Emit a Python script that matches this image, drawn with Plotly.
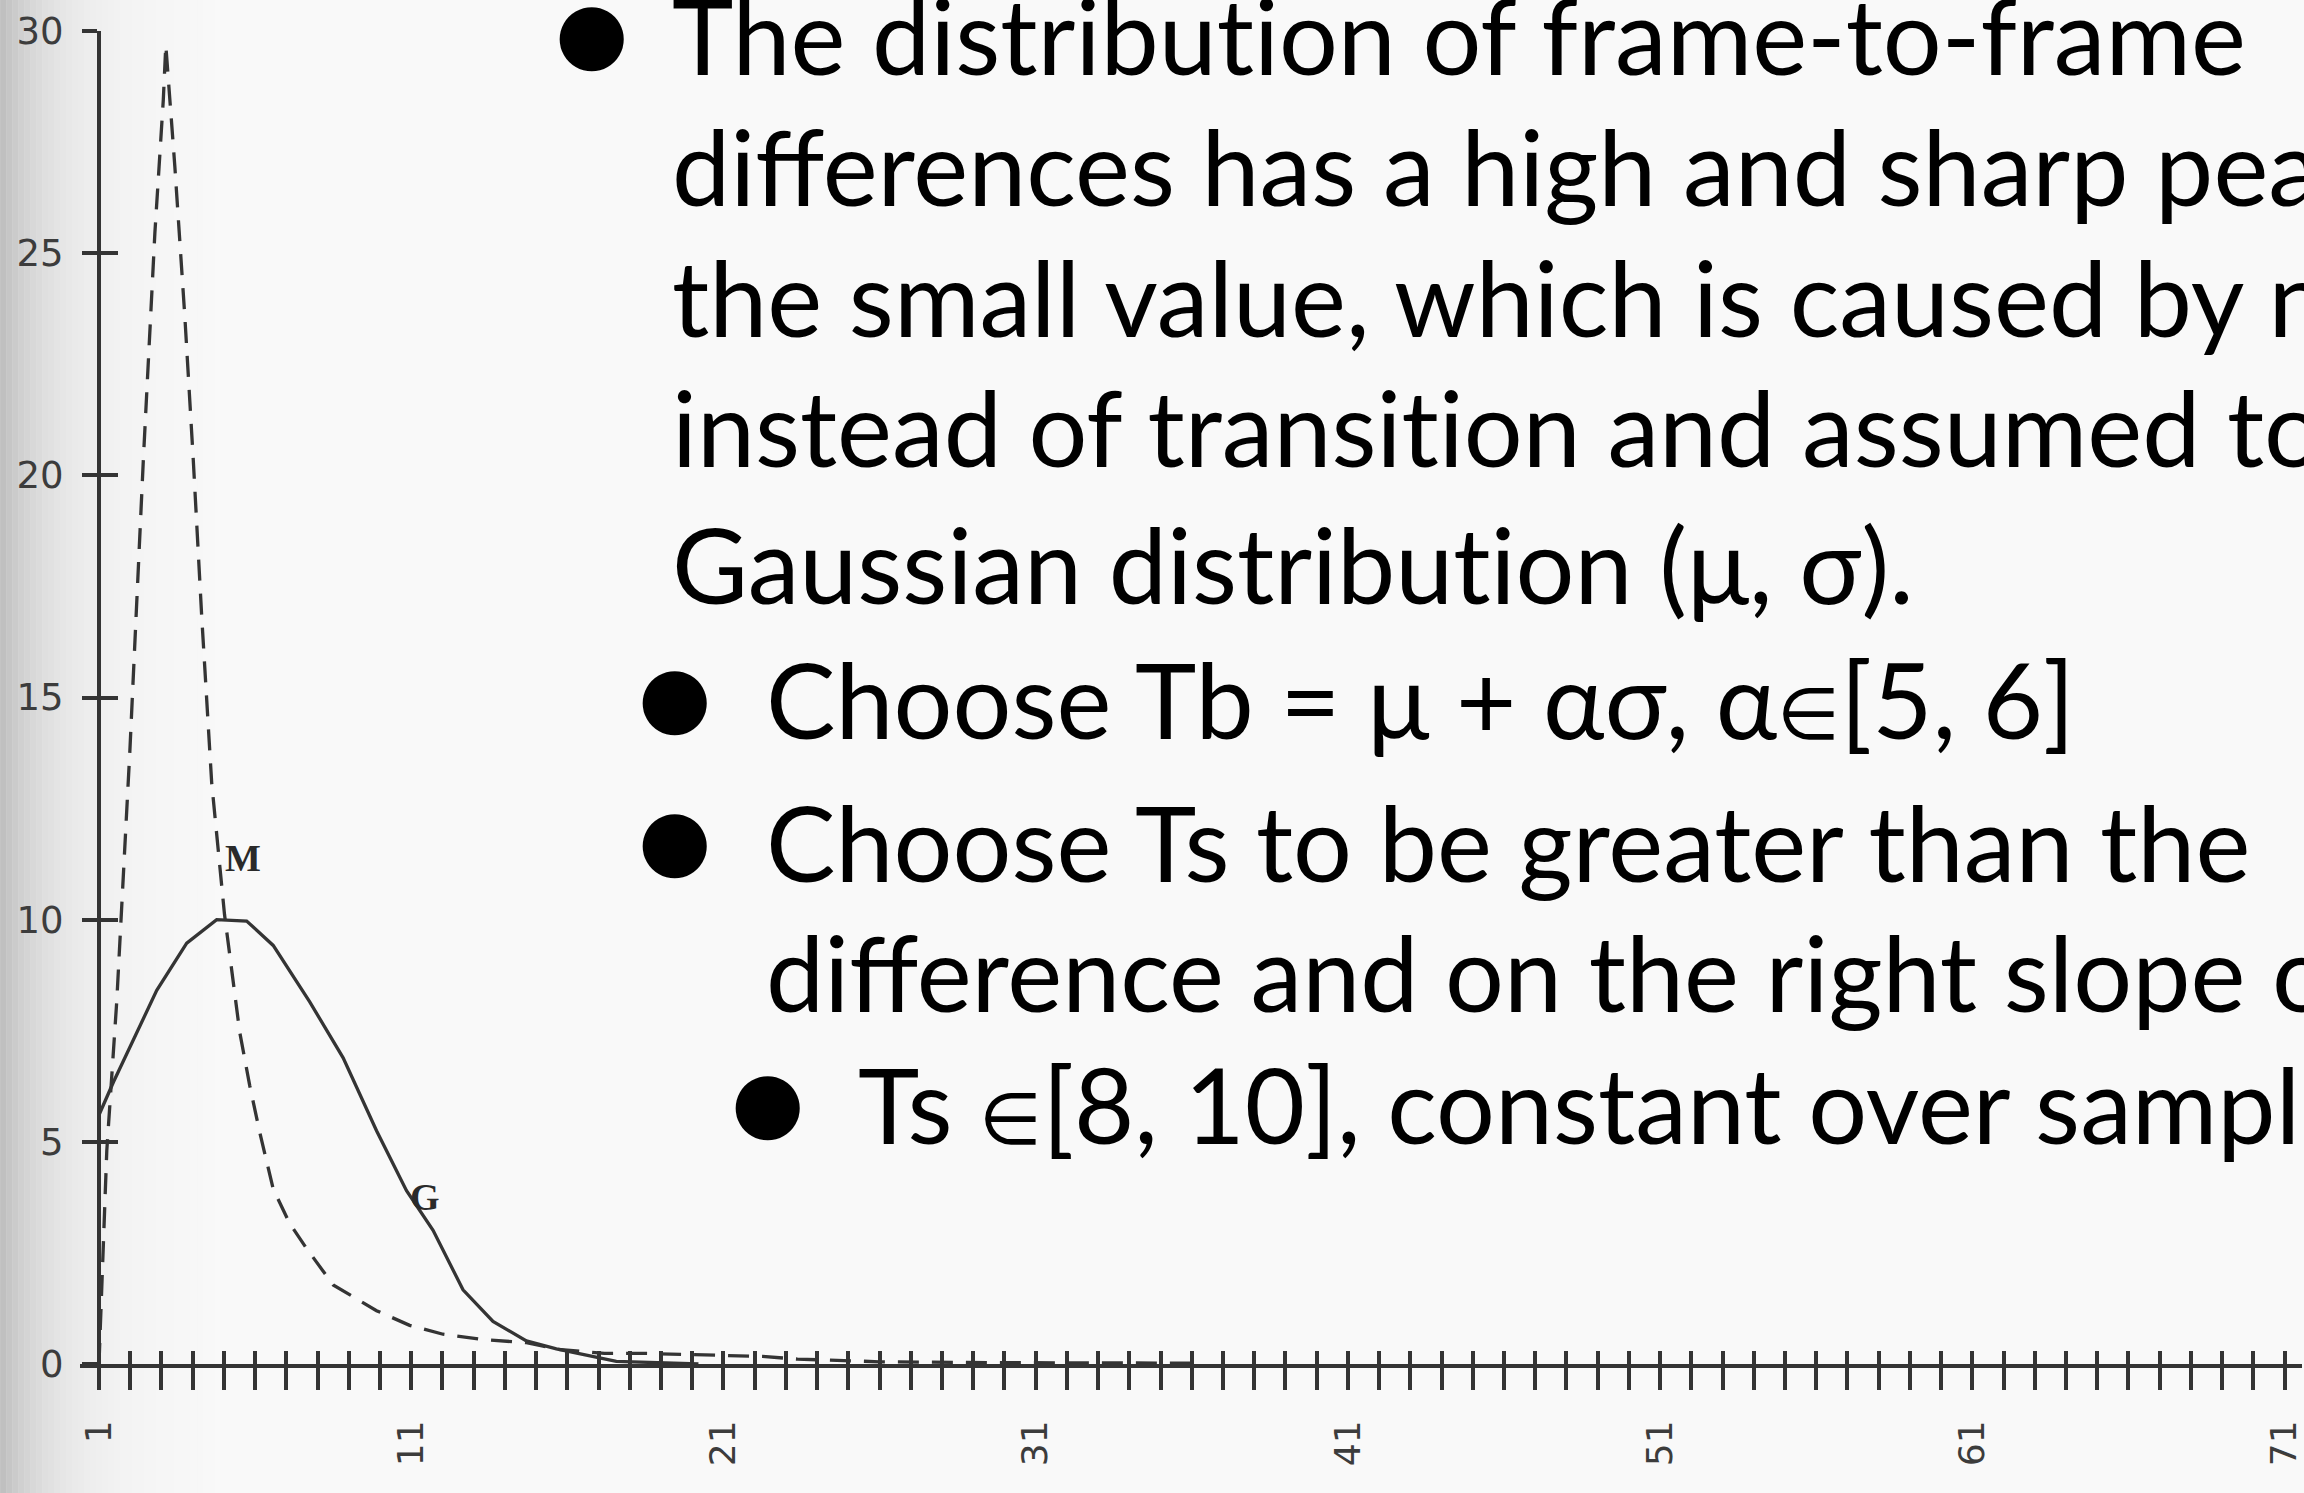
import math
import plotly.graph_objects as go

# ---- chart data -------------------------------------------------------------
# x axis: frame-difference bins, one tick per bin, labelled every ten
x_ticks = list(range(1, 72))
x_tick_labels = [str(v) if (v - 1) % 10 == 0 else "" for v in x_ticks]
y_ticks = [0, 5, 10, 15, 20, 25, 30]

# M: measured distribution of frame-to-frame differences (dashed)
M_x = [1.00, 1.25, 1.57, 1.99, 2.42, 2.79, 3.06, 3.14, 3.43, 3.75, 4.02, 4.29,
       4.61, 5.02, 5.51, 5.83, 6.15, 6.58, 7.11, 7.65, 8.50, 9.03, 9.89, 10.95,
       12.02, 13.30, 14.69, 15.69, 17.19, 18.41, 19.59, 21.10, 22.25, 23.37,
       26.00, 30.00, 36.00]
M_y = [0.00, 4.80, 8.17, 13.81, 20.34, 25.45, 28.45, 29.68, 26.95, 23.57, 20.35,
       16.83, 13.08, 10.12, 7.46, 6.26, 5.21, 3.94, 3.16, 2.60, 1.78, 1.56, 1.20,
       0.87, 0.67, 0.55, 0.48, 0.33, 0.24, 0.24, 0.22, 0.20, 0.17, 0.11, 0.05,
       0.03, 0.02]

# G: fitted Gaussian (solid)
G_x = [1.01, 1.46, 2.85, 3.81, 4.77, 5.73, 6.58, 7.75, 8.82, 9.89, 10.85, 11.70,
       12.66, 13.62, 14.69, 15.65, 16.61, 17.57, 20.20]
G_y = [5.62, 6.34, 8.41, 9.47, 10.00, 9.97, 9.42, 8.15, 6.89, 5.25, 3.90, 3.01,
       1.67, 0.96, 0.52, 0.34, 0.20, 0.06, 0.00]

curve_labels = ["M", "G"]
curve_label_x = [5.61, 11.43]
curve_label_y = [11.38, 3.76]

# slide text: (indent level, text, has bullet)
ELEM = "<span style='font-size:72px'>\u2208</span>"
ZWNJ = "\u200c"  # keeps "t" and "i" as separate glyphs
slide_lines = [
    (1, "The distribu" + "t" + ZWNJ + "ion of frame-to-frame", True),
    (1, "differences has a high and sharp peak", False),
    (1, "the small value, which is caused by n", False),
    (1, "instead of transi" + "t" + ZWNJ + "ion and assumed to", False),
    (1, "Gaussian distribu" + "t" + ZWNJ + "ion (\u03bc, \u03c3).", False),
    (2, "Choose Tb = \u03bc + \u03b1\u03c3, \u03b1" + ELEM + "[5, 6]", True),
    (2, "Choose Ts to be greater than the", True),
    (2, "difference and on the right slope o", False),
    (3, "Ts " + ELEM + "[8, 10], constant over sampl", True),
]

# ---- layout geometry --------------------------------------------------------
W, H = 2304, 1493
ML, MR, MT, MB = 80, 0, 31, 129
PW, PH = W - ML - MR, H - MT - MB

X1_PX = 99          # pixel column of bin 1 (where the y axis sits)
X_UNIT = 31.25      # pixels per bin
x_range = [1 - (X1_PX - ML) / X_UNIT, 1 + (W - MR - X1_PX) / X_UNIT]


def paper_x(px):
    return (px - ML) / PW


def paper_y(py):
    return (H - MB - py) / PH


PAGE = "#f9f9f9"
INK = "#343434"
LABEL = "#3c3c3c"

fig = go.Figure()

fig.add_trace(go.Scatter(
    x=G_x, y=G_y, mode="lines", line=dict(color=INK, width=3.3),
    hoverinfo="skip", showlegend=False))
fig.add_trace(go.Scatter(
    x=M_x, y=M_y, mode="lines",
    line=dict(color=INK, width=3.3, dash="21px,13px"),
    hoverinfo="skip", showlegend=False))
# carrier trace for the overlay axes that draw the inner half of each tick
fig.add_trace(go.Scatter(x=[None], y=[None], xaxis="x2", yaxis="y2",
                         showlegend=False, hoverinfo="skip"))

fig.update_layout(
    width=W, height=H,
    margin=dict(l=ML, r=MR, t=MT, b=MB, pad=0),
    paper_bgcolor=PAGE, plot_bgcolor=PAGE,
    showlegend=False,
    xaxis=dict(
        range=x_range, domain=[0, 1], anchor="y",
        showline=True, linecolor=INK, linewidth=4,
        ticks="outside", ticklen=22, tickwidth=3.5, tickcolor=INK,
        tickmode="array", tickvals=x_ticks, ticktext=x_tick_labels,
        tickangle=-90, ticklabeloverflow="allow",
        tickfont=dict(family="DejaVu Sans", size=36, color=LABEL),
        ticklabelstandoff=16,
        showgrid=False, zeroline=False,
    ),
    yaxis=dict(
        range=[0, 30], domain=[0, 1], anchor="free",
        position=paper_x(X1_PX),
        showline=True, linecolor=INK, linewidth=4,
        ticks="outside", ticklen=15, tickwidth=3.5, tickcolor=INK,
        tickmode="array", tickvals=y_ticks,
        tickfont=dict(family="DejaVu Sans", size=37, color=LABEL),
        ticklabelstandoff=11,
        showgrid=False, zeroline=False,
    ),
    xaxis2=dict(
        range=x_range, overlaying="x", anchor="y2",
        ticks="inside", ticklen=13, tickwidth=3.5, tickcolor=INK,
        tickmode="array", tickvals=x_ticks, showticklabels=False,
        showline=False, showgrid=False, zeroline=False,
    ),
    yaxis2=dict(
        range=[0, 30], overlaying="y", anchor="free",
        position=paper_x(X1_PX),
        ticks="inside", ticklen=18, tickwidth=3.5, tickcolor=INK,
        tickmode="array", tickvals=y_ticks, showticklabels=False,
        showline=False, showgrid=False, zeroline=False,
    ),
)

# darker scanned-page edge on the left
shapes = []
step = 6
for p in range(0, 216, step):
    v = int(round(249 - 60 * math.exp(-(p + step / 2) / 55)))
    shapes.append(dict(
        type="rect", xref="paper", yref="paper", layer="below",
        x0=paper_x(p), x1=paper_x(p + step), y0=paper_y(H), y1=paper_y(0),
        line=dict(width=0), fillcolor=f"rgb({v},{v},{v})"))
fig.update_layout(shapes=shapes)

annotations = []
for lab, lx, ly in zip(curve_labels, curve_label_x, curve_label_y):
    annotations.append(dict(
        x=lx, y=ly, xref="x", yref="y", text=f"<b>{lab}</b>",
        showarrow=False, xanchor="center", yanchor="middle",
        font=dict(family="Liberation Serif", size=38, color="#2a2a2a")))

TEXT_SIZE = 104
BULLET_SIZE = 84
text_left = {1: 671, 2: 765, 3: 857}
bullet_centre = {1: 592, 2: 675, 3: 768}
baselines = [76, 207, 338, 468, 605, 740, 883, 1013, 1145]

for (level, text, has_bullet), base in zip(slide_lines, baselines):
    annotations.append(dict(
        x=paper_x(text_left[level]), y=paper_y(base + 0.22 * TEXT_SIZE),
        xref="paper", yref="paper", text=text, showarrow=False,
        xanchor="left", yanchor="bottom", align="left",
        font=dict(family="Lato", size=TEXT_SIZE, color="#000000")))
    if has_bullet:
        annotations.append(dict(
            x=paper_x(bullet_centre[level]), y=paper_y(base - 44),
            xref="paper", yref="paper", text="\u25cf", showarrow=False,
            xanchor="center", yanchor="middle",
            font=dict(family="DejaVu Sans", size=BULLET_SIZE, color="#000000")))

fig.update_layout(annotations=annotations)

fig.write_html("out.html")
